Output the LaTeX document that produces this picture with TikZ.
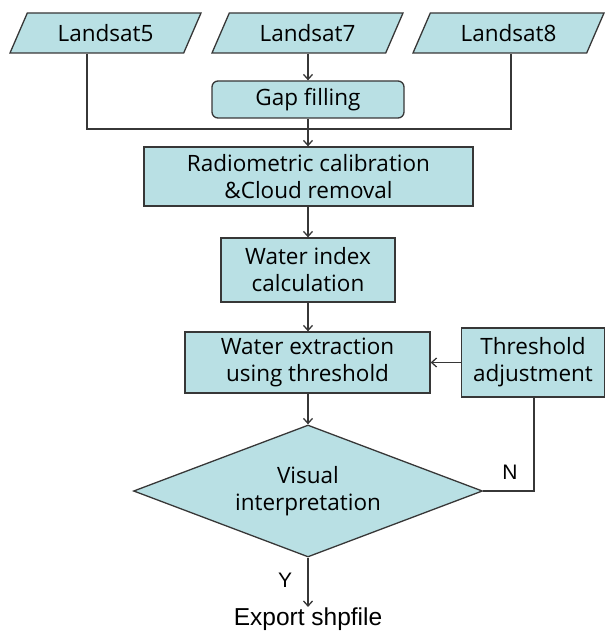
\documentclass[tikz,border=0pt]{standalone}
\usepackage{fontspec}
\setmainfont{Open Sans}
\newfontfamily\exportfont{Liberation Sans}
\usetikzlibrary{shapes.geometric,arrows.meta}
\definecolor{boxfill}{RGB}{185,224,228}
\definecolor{linegray}{RGB}{55,55,55}
\begin{document}
\begin{tikzpicture}[x=1pt,y=-1pt, line width=1.3pt,
	every node/.style={font=\fontsize{22.5}{27}\selectfont, align=center, inner sep=0pt},
	data/.style={trapezium, trapezium left angle=45, trapezium right angle=135, trapezium stretches body, draw=linegray, fill=boxfill, minimum width=191, minimum height=40},
	proc/.style={rectangle, draw=linegray, fill=boxfill},
	decide/.style={diamond, draw=linegray, fill=boxfill, shape aspect=2.64, minimum width=349, minimum height=132},
	lbl/.style={font=\exportfont\fontsize{21}{24}\selectfont},
	arr/.style={draw=linegray, -{Straight Barb[length=5pt,width=9pt]}}]
		\useasboundingbox (0,0) rectangle (605,631);
		\node [data] (l5) at (105.5,33) {Landsat5};
		\node [data] (l7) at (307.5,33) {Landsat7};
		\node [data] (l8) at (508.5,33) {Landsat8};
		\node [proc, rounded corners=6pt, minimum width=192, minimum height=37] (gap) at (308,99.5) {Gap filling};
		\node [proc, minimum width=329, minimum height=59] (rad) at (308.5,176.5) {Radiometric calibration\\\&Cloud removal};
		\node [proc, minimum width=174, minimum height=64] (wi) at (308,270) {Water index\\calculation};
		\node [proc, minimum width=245, minimum height=61] (ext) at (307.5,362.5) {Water extraction\\using threshold};
		\node [proc, minimum width=143, minimum height=69] (thr) at (533,362.5) {Threshold\\adjustment};
		\node [decide] (vis) at (308,491) {Visual\\interpretation};
		\node (exp) at (308,619) {\exportfont\fontsize{24.5}{28}\selectfont Export shpfile};
		\node [lbl] (n) at (510,472) {N};
		\node [lbl] (y) at (285,580) {Y};
		\coordinate (j5) at (87,129);
		\coordinate (j8) at (511,129);
		\coordinate (jc) at (308,129);
		\coordinate (jn) at (534,491);
		
		\draw [linegray] (l5.south -| j5) -- (j5) -- (j8) -- (l8.south -| j8);
		\draw [arr] (l7.south -| jc) -- (gap.north -| jc);
		\draw [arr] (gap.south -| jc) -- (rad.north -| jc);
		\draw [arr] (rad.south -| jc) -- (wi.north -| jc);
		\draw [arr] (wi.south -| jc) -- (ext.north -| jc);
		\draw [arr] (thr.west) -- (ext.east);
		\draw [arr] (ext.south -| jc) -- (vis.north);
		\draw [linegray] (vis.east) -- (jn) -- (thr.south -| jn);
		\draw [arr] (vis.south) -- (exp.north);
		\end{tikzpicture}
\end{document}
